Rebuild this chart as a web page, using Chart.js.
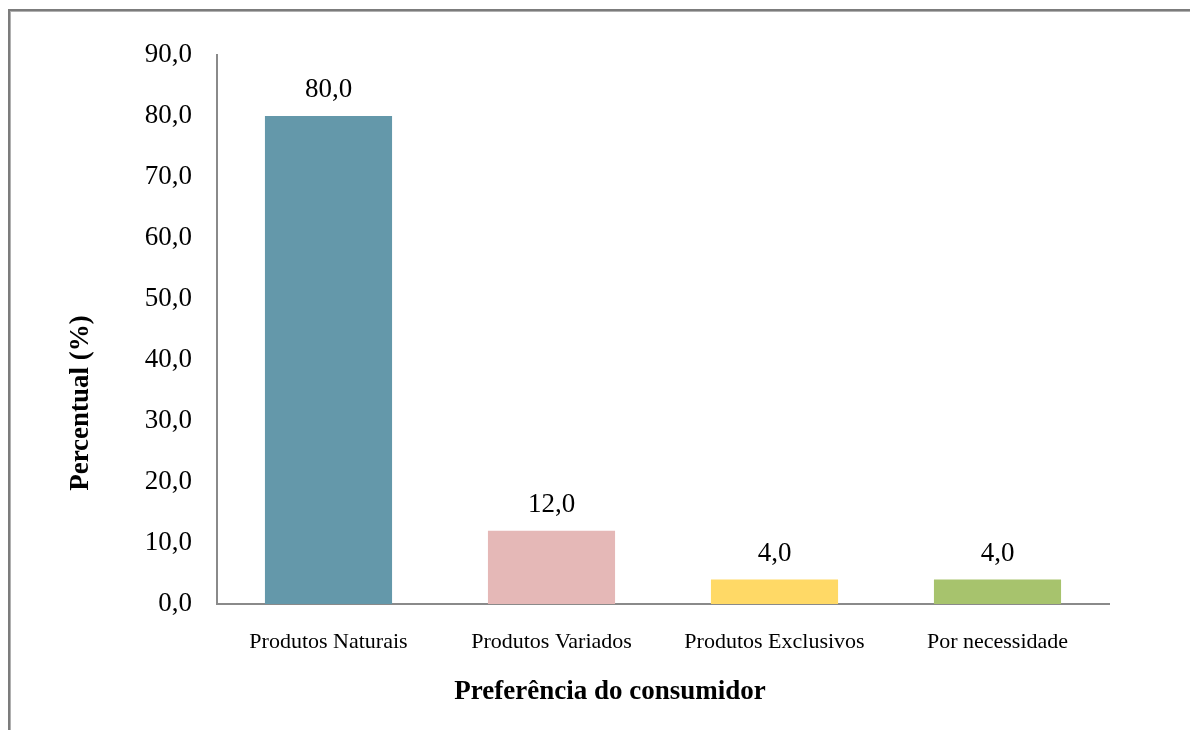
<!DOCTYPE html>
<html>
<head>
<meta charset="utf-8">
<script src="https://cdn.jsdelivr.net/npm/chart.js@4"></script>
<style>
    html, body { margin: 0; padding: 0; background: #fff; }
    body { width: 1190px; height: 730px; overflow: hidden; position: relative; }
    .frame {
        position: absolute;
        left: 8px;
        top: 9px;
        width: 1400px;
        height: 1000px;
        border-left: 2px solid #7c7c7c;
        border-top: 2px solid #7c7c7c;
        box-shadow: inset 1px 1px 0 #b0b0b0;
    }
    #chart { position: absolute; left: 0; top: 0; }
</style>
</head>
<body>
<div class="frame"></div>
<canvas id="chart" width="1190" height="730"></canvas>
<script>
// Data
const categories = ['Produtos Naturais', 'Produtos Variados', 'Produtos Exclusivos', 'Por necessidade'];
const percentValues = [80.0, 12.0, 4.0, 4.0];
const barColors = ['#6498AA', '#E5B8B7', '#FFD966', '#A7C36D'];
const yTickLabels = ['0,0', '10,0', '20,0', '30,0', '40,0', '50,0', '60,0', '70,0', '80,0', '90,0'];
const xTitle = 'Preferência do consumidor';
const yTitle = 'Percentual (%)';

const serif = '"Liberation Serif", "Times New Roman", serif';

// Format number with comma decimal
const formatValue = (v) => v.toFixed(1).replace('.', ',');

// Value labels above bars + axis titles
const labelsPlugin = {
    id: 'labelsPlugin',
    afterDatasetsDraw(chart) {
        const ctx = chart.ctx;
        const meta = chart.getDatasetMeta(0);
        ctx.save();
        ctx.fillStyle = '#000';
        ctx.font = '27px ' + serif;
        ctx.textAlign = 'center';
        ctx.textBaseline = 'alphabetic';
        meta.data.forEach((bar, i) => {
            ctx.fillText(formatValue(percentValues[i]), bar.x, bar.y - 19);
        });
        ctx.restore();
    },
    afterDraw(chart) {
        const ctx = chart.ctx;
        ctx.save();
        ctx.fillStyle = '#000';
        ctx.font = 'bold 27px ' + serif;
        ctx.textAlign = 'center';
        ctx.textBaseline = 'middle';
        ctx.fillText(xTitle, 610, 692);

        ctx.translate(81, 403);
        ctx.rotate(-Math.PI / 2);
        ctx.fillText(yTitle, 0, 0);
        ctx.restore();
    }
};

const ctx = document.getElementById('chart').getContext('2d');
new Chart(ctx, {
    type: 'bar',
    data: {
        labels: categories,
        datasets: [{
            data: percentValues,
            backgroundColor: barColors,
            borderWidth: 0,
            barPercentage: 0.57,
            categoryPercentage: 1.0
        }]
    },
    options: {
        responsive: false,
        animation: false,
        events: [],
        layout: {
            padding: { top: 55, right: 81, bottom: 0, left: 0 }
        },
        plugins: {
            legend: { display: false },
            tooltip: { enabled: false }
        },
        scales: {
            x: {
                grid: { display: false, drawTicks: false },
                border: { display: true, color: '#8a8a8a', width: 2 },
                ticks: {
                    color: '#000',
                    font: { family: serif, size: 22 },
                    padding: 25,
                    maxRotation: 0
                },
                afterFit(scale) { scale.height = 126; }
            },
            y: {
                min: 0,
                max: 90,
                grid: { display: false, drawTicks: false },
                border: { display: true, color: '#8a8a8a', width: 2 },
                ticks: {
                    stepSize: 10,
                    color: '#000',
                    font: { family: serif, size: 27 },
                    padding: 25,
                    callback: (value, index) => yTickLabels[index]
                },
                afterFit(scale) { scale.width = 217; }
            }
        }
    },
    plugins: [labelsPlugin]
});
</script>
</body>
</html>
